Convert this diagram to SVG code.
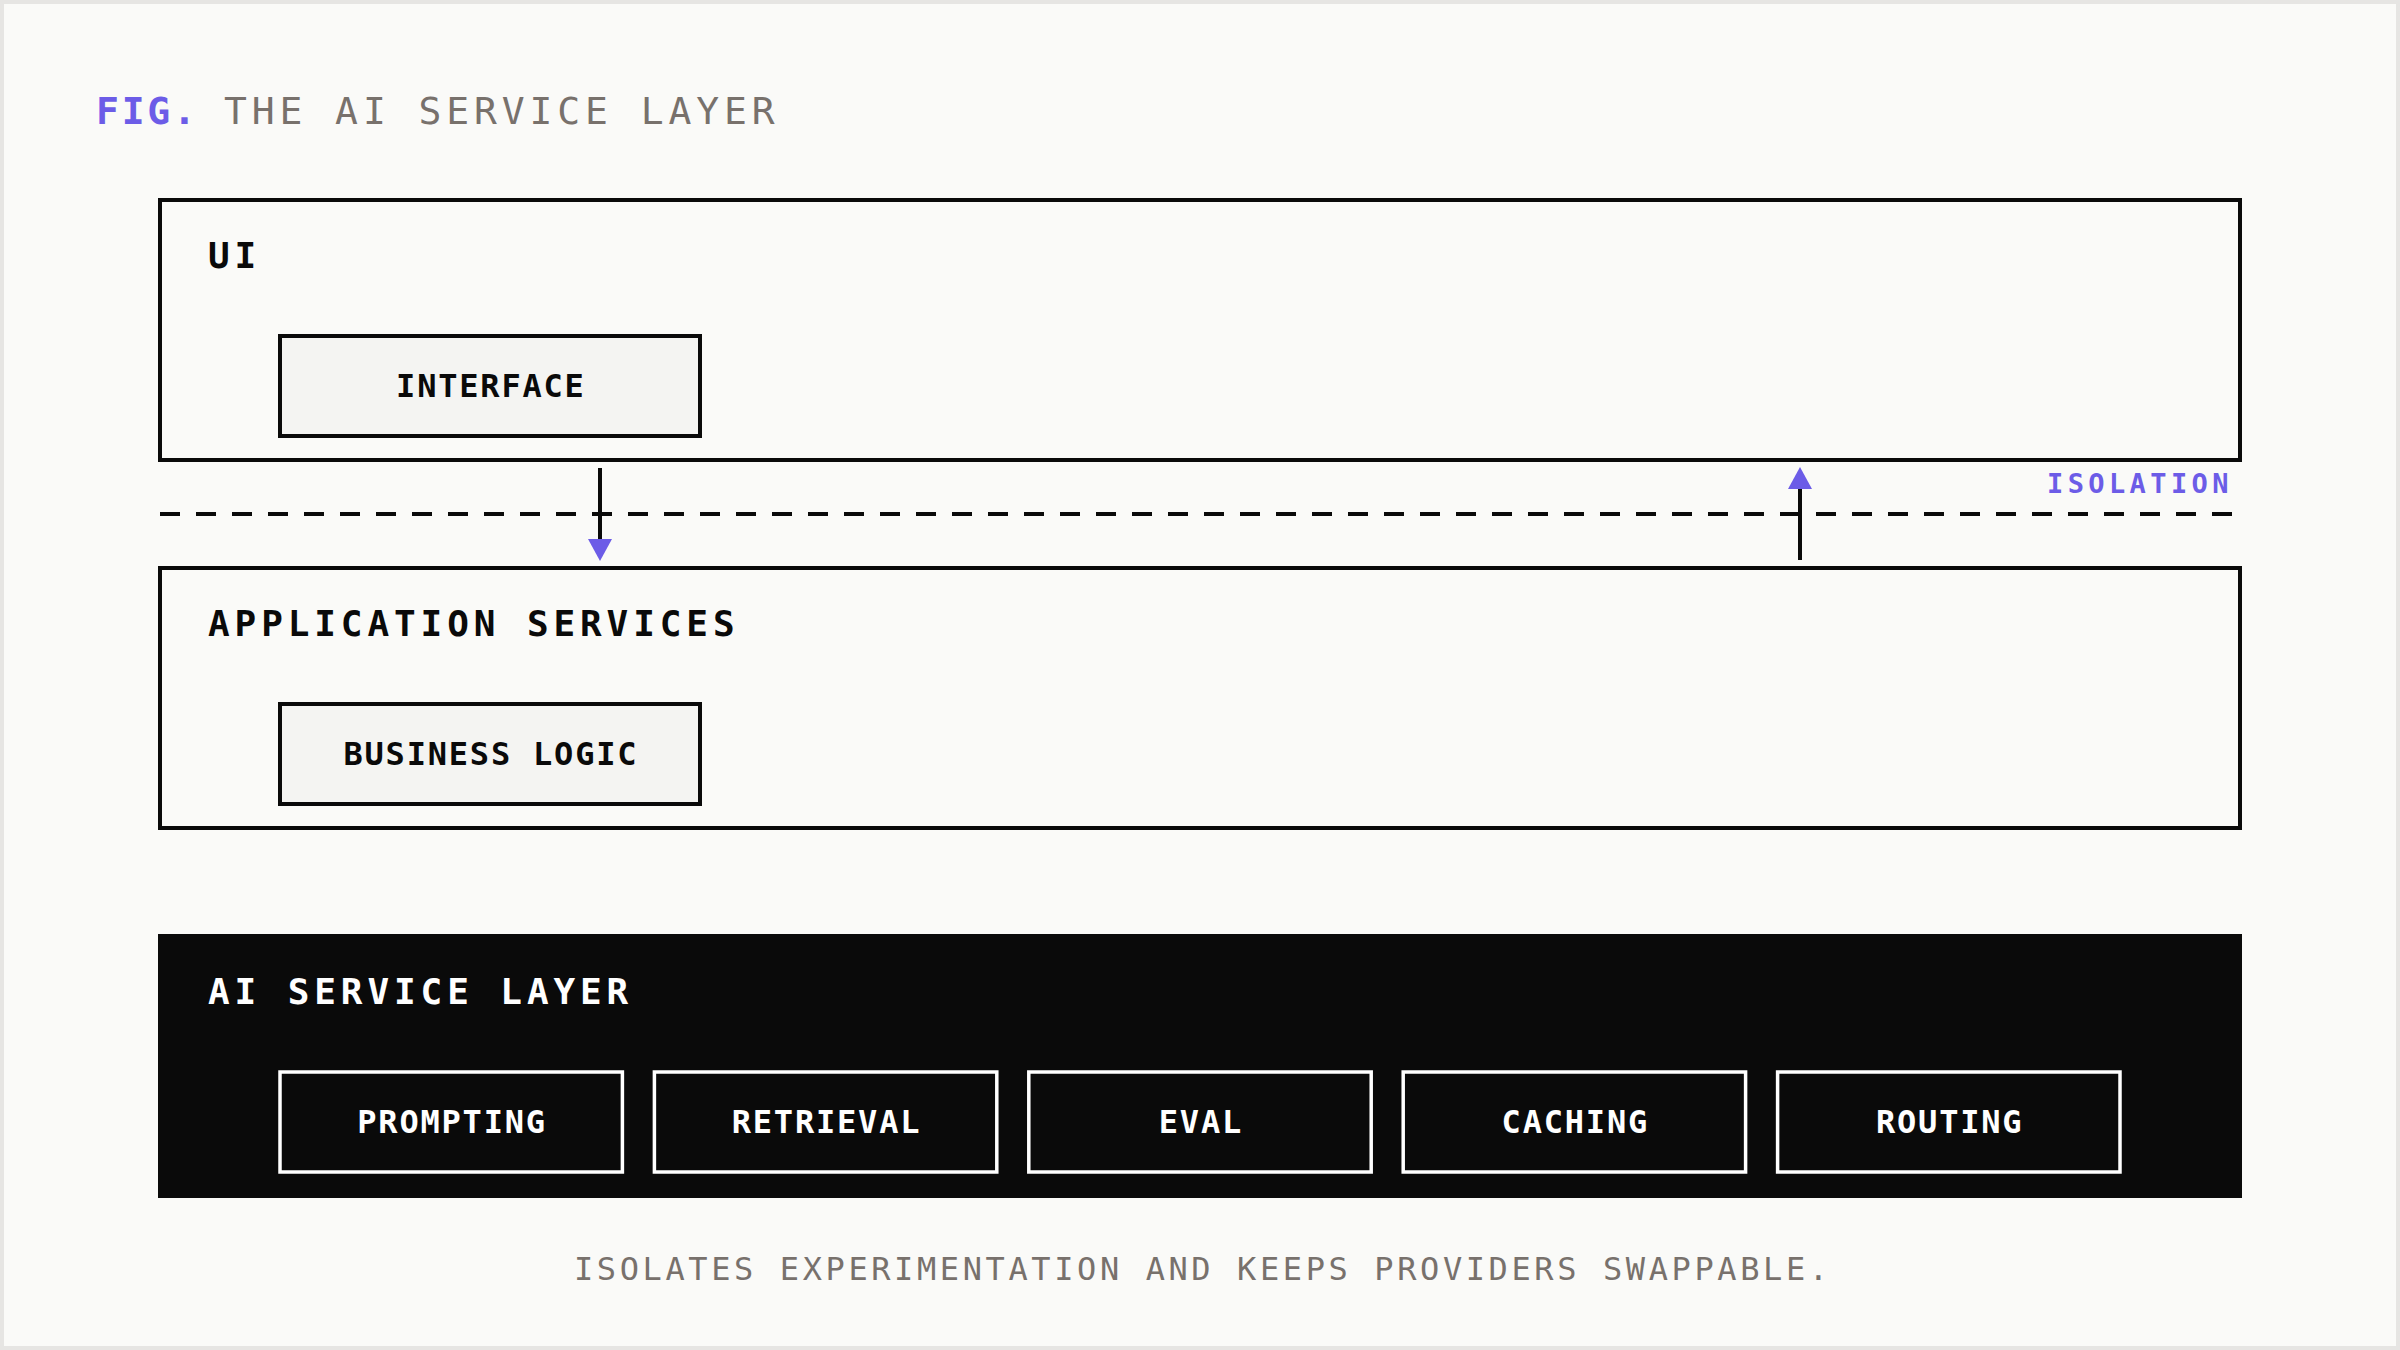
<svg xmlns="http://www.w3.org/2000/svg" width="2400" height="1350" viewBox="0 0 2400 1350">
  <defs>
    <style>
      text { font-family: "DejaVu Sans Mono", "Liberation Mono", monospace; }
      .bg { fill: #fafaf8; stroke: #e6e5e3; stroke-width: 8; }
      .layer { fill: #fafaf8; stroke: #0a0a0a; stroke-width: 4; }
      .layer-dark { fill: #0a0a0a; stroke: #0a0a0a; stroke-width: 4; }
      .box { fill: #f4f4f2; stroke: #0a0a0a; stroke-width: 4; }
      .box-dark { fill: #0a0a0a; stroke: #ffffff; stroke-width: 3.5; }
      .layer-label { font-size: 36px; font-weight: 700; letter-spacing: 4.9px; fill: #0a0a0a; }
      .layer-label-light { font-size: 36px; font-weight: 700; letter-spacing: 4.9px; fill: #ffffff; }
      .box-label { font-size: 32px; font-weight: 700; letter-spacing: 1.8px; fill: #0a0a0a; text-anchor: middle; }
      .box-label-light { font-size: 32px; font-weight: 700; letter-spacing: 1.8px; fill: #ffffff; text-anchor: middle; }
      .title { font-size: 38px; letter-spacing: 4.9px; fill: #78716c; }
      .fig { font-size: 38px; font-weight: 700; letter-spacing: 2.8px; fill: #6c5ce7; }
      .iso { font-size: 27px; font-weight: 700; letter-spacing: 4.4px; fill: #6c5ce7; }
      .caption { font-size: 32px; letter-spacing: 3.6px; fill: #78716c; }
      .arrow { stroke: #0a0a0a; stroke-width: 4; fill: none; }
      .divider { stroke: #0a0a0a; stroke-width: 4; stroke-dasharray: 20 16; fill: none; }
    </style>
    <marker id="head" markerUnits="userSpaceOnUse" markerWidth="24" markerHeight="24" viewBox="0 0 22 24" refX="0" refY="12" orient="auto">
      <path d="M0,0 L22,12 L0,24 Z" fill="#6c5ce7"/>
    </marker>
  </defs>

  <rect class="bg" x="0" y="0" width="2400" height="1350"/>

  <g id="title">
    <text class="fig" x="96" y="124">FIG.</text>
    <text class="title" x="224" y="124">THE AI SERVICE LAYER</text>
  </g>

  <g id="layer-ui">
    <rect class="layer" x="160" y="200" width="2080" height="260"/>
    <text class="layer-label" x="208" y="268">UI</text>
  </g>
  <g id="node-interface">
    <rect class="box" x="280" y="336" width="420" height="100"/>
    <text class="box-label" x="490.9" y="397">INTERFACE</text>
  </g>

  <g id="layer-app">
    <rect class="layer" x="160" y="568" width="2080" height="260"/>
    <text class="layer-label" x="208" y="636">APPLICATION SERVICES</text>
  </g>
  <g id="node-business-logic">
    <rect class="box" x="280" y="704" width="420" height="100"/>
    <text class="box-label" x="490.9" y="765">BUSINESS LOGIC</text>
  </g>

  <g id="layer-ai">
    <rect class="layer-dark" x="160" y="936" width="2080" height="260"/>
    <text class="layer-label-light" x="208" y="1004">AI SERVICE LAYER</text>
  </g>
  <g id="node-prompting">
    <rect class="box-dark" x="280" y="1072" width="342.4" height="100"/>
    <text class="box-label-light" x="452.1" y="1133">PROMPTING</text>
  </g>
  <g id="node-retrieval">
    <rect class="box-dark" x="654.4" y="1072" width="342.4" height="100"/>
    <text class="box-label-light" x="826.5" y="1133">RETRIEVAL</text>
  </g>
  <g id="node-eval">
    <rect class="box-dark" x="1028.8" y="1072" width="342.4" height="100"/>
    <text class="box-label-light" x="1200.9" y="1133">EVAL</text>
  </g>
  <g id="node-caching">
    <rect class="box-dark" x="1403.2" y="1072" width="342.4" height="100"/>
    <text class="box-label-light" x="1575.3" y="1133">CACHING</text>
  </g>
  <g id="node-routing">
    <rect class="box-dark" x="1777.6" y="1072" width="342.4" height="100"/>
    <text class="box-label-light" x="1949.7" y="1133">ROUTING</text>
  </g>

  <g id="isolation">
    <line class="divider" x1="160" y1="514" x2="2240" y2="514"/>
    <text class="iso" x="2047" y="493">ISOLATION</text>
  </g>

  <g id="connectors">
    <line class="arrow" x1="600" y1="468" x2="600" y2="539" marker-end="url(#head)"/>
    <line class="arrow" x1="1800" y1="560" x2="1800" y2="489" marker-end="url(#head)"/>
  </g>

  <g id="caption">
    <text class="caption" x="574" y="1280">ISOLATES EXPERIMENTATION AND KEEPS PROVIDERS SWAPPABLE.</text>
  </g>
</svg>
